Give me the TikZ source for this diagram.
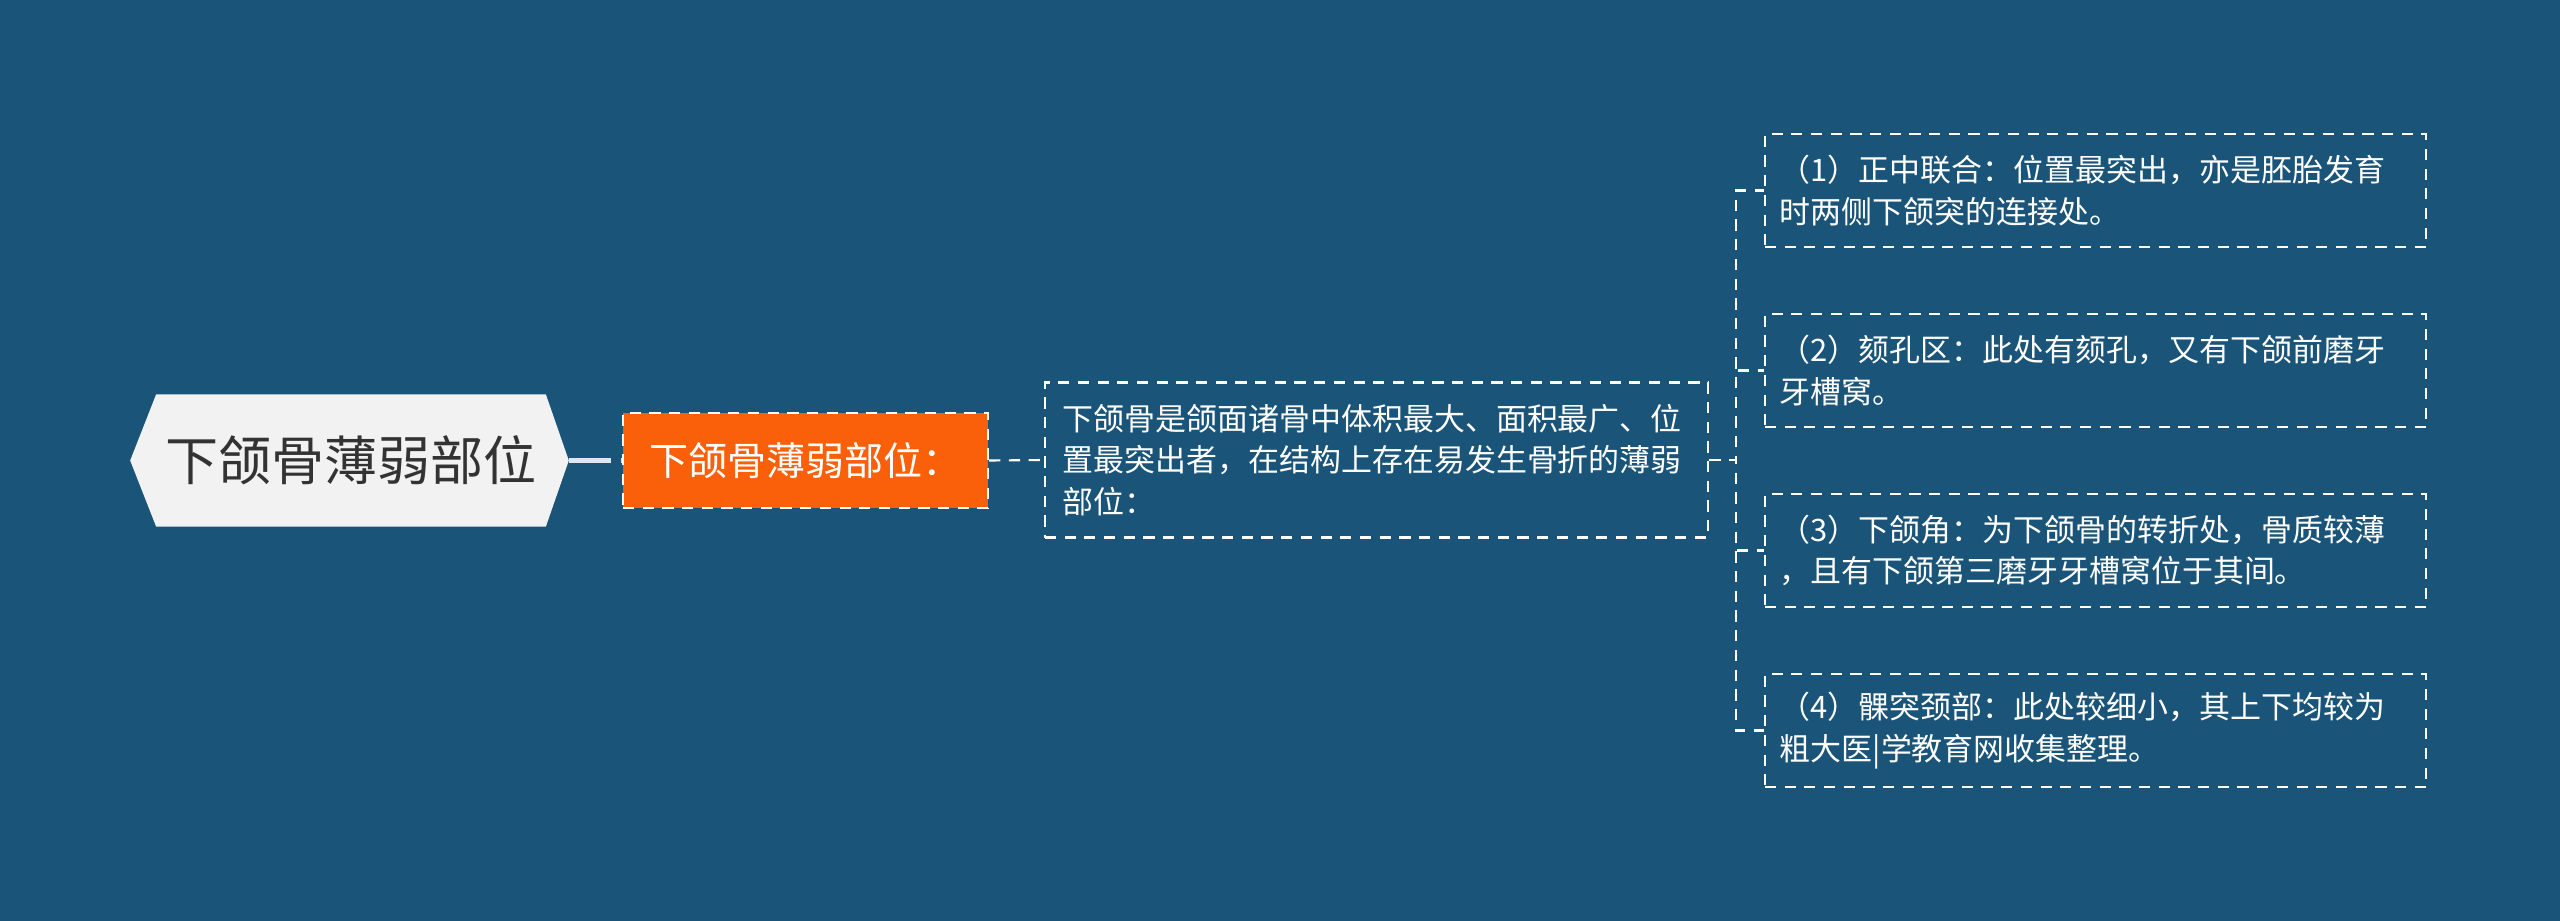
\documentclass[tikz,border=0pt]{standalone}
\usepackage{fontspec}
\setmainfont{Noto Sans CJK SC}
\usetikzlibrary{calc,backgrounds}
\definecolor{bgblue}{HTML}{1A5478}
\definecolor{rootgray}{HTML}{F2F2F2}
\definecolor{rootink}{HTML}{333333}
\definecolor{orangefill}{HTML}{FA5F0A}
\definecolor{linkgray}{HTML}{DCE8F0}
\tikzset{dashed white/.style={draw=white, line width=0.6pt, dash pattern=on 3.2pt off 2.4pt}}
\tikzset{leaf/.style={dashed white, text=white, align=left, inner xsep=0.15cm, inner ysep=0pt, text width=6.31cm, minimum height=1.13cm, font=\fontsize{8.8pt}{11.8pt}\selectfont}}

\begin{document}
\begin{tikzpicture}[x=0.01cm, y=-0.01cm]
\node [text=rootink, minimum width=3.88cm, minimum height=1.31cm, inner sep=0pt, font=\fontsize{15.1pt}{18pt}\selectfont] (root) at (351,460.5) {下颌骨薄弱部位};
\coordinate (roottip) at ($(root.east)+(23,0)$);
\node [dashed white, fill=orangefill, text=white, minimum width=3.65cm, minimum height=0.95cm, inner sep=0pt, font=\fontsize{11.1pt}{13pt}\selectfont] (sub) at (805.5,460.5) {下颌骨薄弱部位：};
\node [dashed white, text=white, align=left, inner xsep=0.18cm, inner ysep=0pt, text width=6.27cm, minimum height=1.55cm, font=\fontsize{8.8pt}{11.8pt}\selectfont] (desc) at (1376.5,460) {下颌骨是颌面诸骨中体积最大、面积最广、位\\置最突出者，在结构上存在易发生骨折的薄弱\\部位：};
\node [leaf] (part1) at (2095.5,190.5) {（1）正中联合：位置最突出，亦是胚胎发育\\时两侧下颌突的连接处。};
\node [leaf] (part2) at (2095.5,370.5) {（2）颏孔区：此处有颏孔，又有下颌前磨牙\\牙槽窝。};
\node [leaf] (part3) at (2095.5,550.5) {（3）下颌角：为下颌骨的转折处，骨质较薄\\，且有下颌第三磨牙牙槽窝位于其间。};
\node [leaf] (part4) at (2095.5,730.5) {（4）髁突颈部：此处较细小，其上下均较为\\粗大医|学教育网收集整理。};
\coordinate (hub) at (1736,460);
\begin{pgfonlayer}{background}
\fill [bgblue] (0,0) rectangle (2560,921);
\fill [rootgray] (root.north west) -- (root.north east) -- (roottip) -- (root.south east) -- (root.south west) -- ($(root.west)+(-26,0)$) -- cycle;
\end{pgfonlayer}
\draw [linkgray, line width=1.15pt, dash pattern=on 11.9pt off 2.8pt] (roottip) -- (sub.west);
\draw [dashed white] (sub.east) -- (desc.west);
\foreach \i in {1,...,4}
  \draw [dashed white] (desc.east) -- (hub) |- (part\i.west);
\end{tikzpicture}
\end{document}
